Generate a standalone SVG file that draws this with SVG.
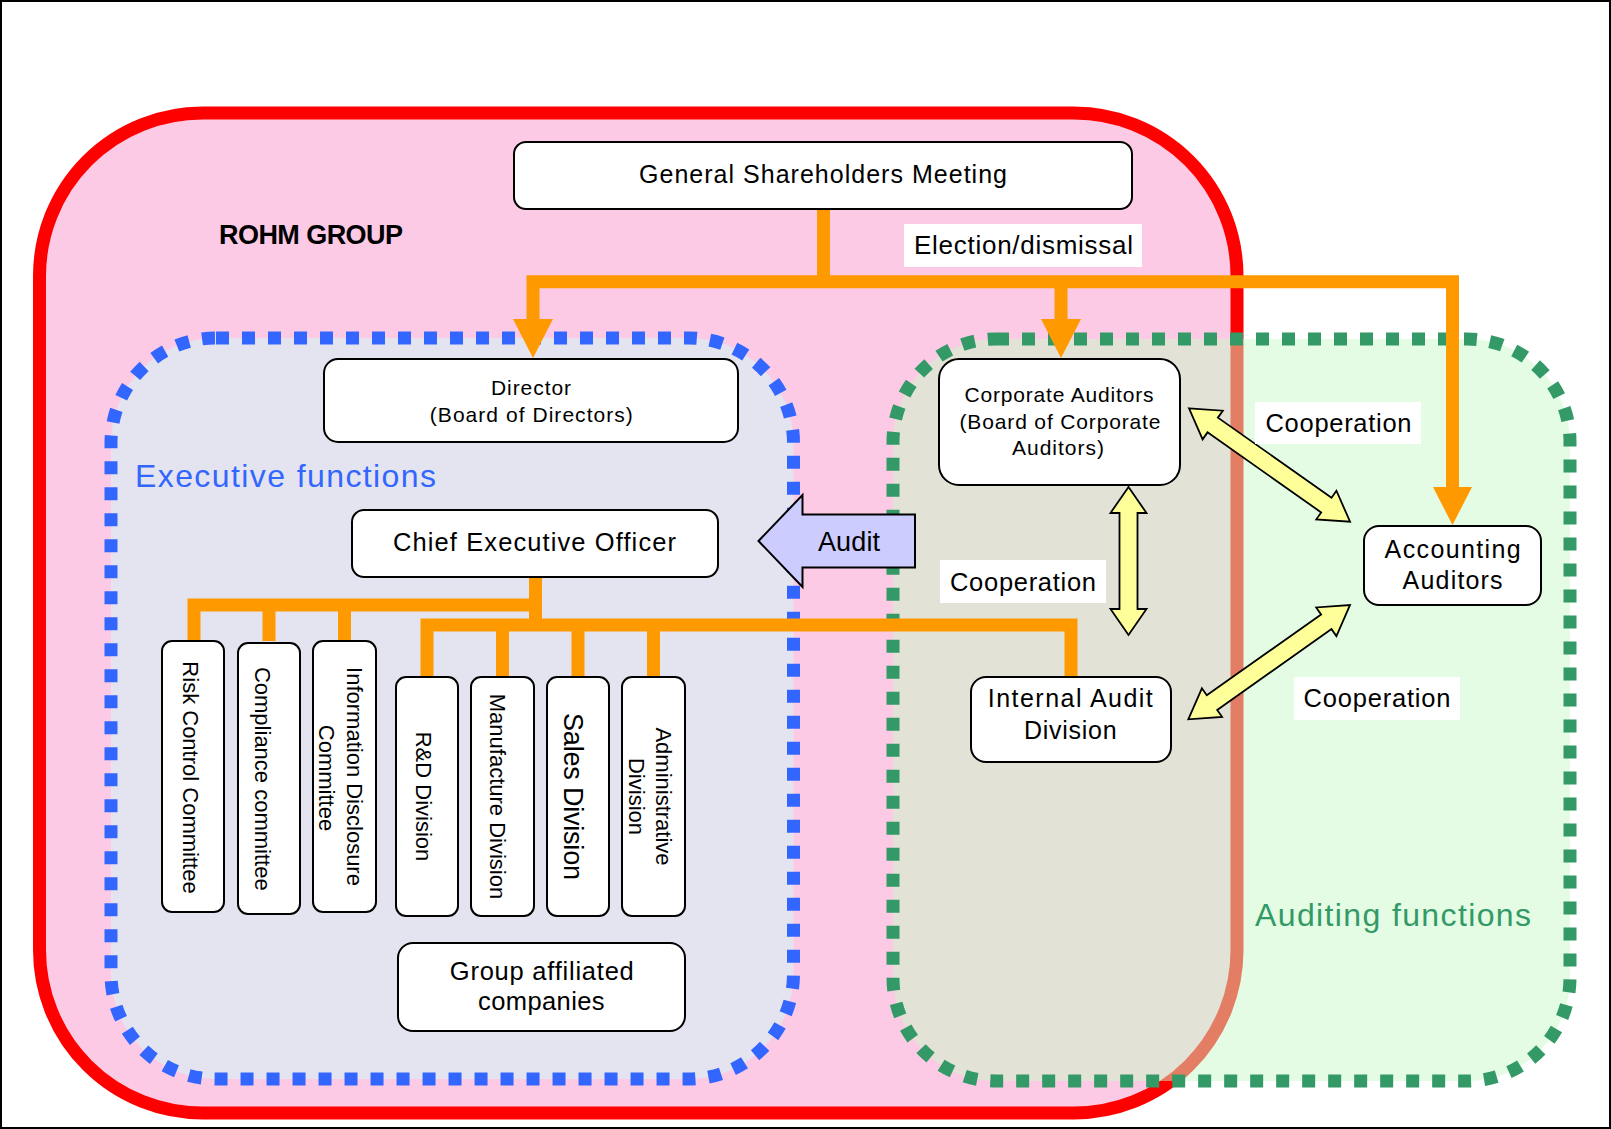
<svg xmlns="http://www.w3.org/2000/svg" width="1611" height="1129" viewBox="0 0 1611 1129">
<style>
.t{font-family:"Liberation Sans",Arial,sans-serif;fill:#000}
.box{fill:#fff;stroke:#000;stroke-width:2}
.lab{fill:#fff}
.or{fill:none;stroke:#FF9900;stroke-width:13;stroke-linejoin:miter;stroke-linecap:butt}
.orh{fill:#FF9900}
.yl{fill:#FFFF99;stroke:#000;stroke-width:1.8;stroke-linejoin:miter}
</style>
<rect x="1" y="1" width="1609" height="1127" fill="#fff" stroke="#000" stroke-width="2"/>
<g id="rohm-group">
<rect x="39.5" y="113" width="1197.5" height="1000" rx="163" ry="163" fill="#FDCAE5" stroke="#FF0000" stroke-width="13"/>
<text class="t" x="219" y="244" font-size="27" font-weight="bold" textLength="184">ROHM GROUP</text>
</g>
<g id="executive-functions">
<rect x="111" y="338" width="682.5" height="741" rx="105" ry="105" fill="#E4E4F0" stroke="#3366FF" stroke-width="13" stroke-dasharray="13 13"/>
<text x="135" y="487" font-family="Liberation Sans,Arial,sans-serif" font-size="32" fill="#3366FF" textLength="301">Executive functions</text>
</g>
<g id="auditing-functions">
<rect x="893" y="339" width="677" height="742" rx="103" ry="103" fill="#C8FAC8" fill-opacity="0.5" stroke="#339966" stroke-width="13" stroke-dasharray="13 13"/>
<text x="1255" y="925.6" font-family="Liberation Sans,Arial,sans-serif" font-size="32" fill="#339966" textLength="276">Auditing functions</text>
</g>
<g id="connectors">
<path class="or" d="M823.5,209 V288"/>
<path class="or" d="M533,320 V281.7 H1452.5 V488"/>
<path class="or" d="M1061,281.7 V320"/>
<polygon class="orh" points="513,319 553,319 533,358"/>
<polygon class="orh" points="1041,319 1081,319 1061,358"/>
<polygon class="orh" points="1433,487 1472,487 1452.5,525"/>
<path class="or" d="M535.5,577 V631"/>
<path class="or" d="M194,641 V605 H542"/>
<path class="or" d="M269,605 V641"/>
<path class="or" d="M344.5,605 V641"/>
<path class="or" d="M427,677 V625 H1071 V677"/>
<path class="or" d="M502.5,625 V677"/>
<path class="or" d="M578,625 V677"/>
<path class="or" d="M653.5,625 V677"/>
<polygon id="audit-arrow" points="758.5,541 802.5,495 802.5,514.5 915,514.5 915,567.5 802.5,567.5 802.5,587" fill="#CCCCFF" stroke="#000" stroke-width="2"/>
<text class="t" x="818" y="550.7" font-size="27" textLength="62">Audit</text>
<polygon class="yl" transform="translate(1128.5,487) rotate(90)" points="0,0 26,-18 26,-9 122,-9 122,-18 148,0 122,18 122,9 26,9 26,18"/>
<polygon class="yl" transform="translate(1189,408.3) rotate(35.16)" points="0,0 29,-17.5 29,-9 168,-9 168,-17.5 197,0 168,17.5 168,9 29,9 29,17.5"/>
<polygon class="yl" transform="translate(1188.3,719.3) rotate(-35.25)" points="0,0 29,-17.5 29,-9 169,-9 169,-17.5 198,0 169,17.5 169,9 29,9 29,17.5"/>
<rect class="lab" x="904" y="224" width="238" height="43"/>
<text class="t" x="1023.5" y="254" font-size="26" text-anchor="middle" textLength="219">Election/dismissal</text>
<rect class="lab" x="1255" y="402" width="166" height="42"/>
<text class="t" x="1338.5" y="432" font-size="25.5" text-anchor="middle" textLength="146">Cooperation</text>
<rect class="lab" x="940" y="560" width="166" height="43"/>
<text class="t" x="1023" y="590.7" font-size="25.5" text-anchor="middle" textLength="146">Cooperation</text>
<rect class="lab" x="1294" y="677" width="166" height="43"/>
<text class="t" x="1377" y="707" font-size="25.5" text-anchor="middle" textLength="147">Cooperation</text>
</g>
<g id="general-shareholders-meeting">
<rect class="box" x="514" y="142" width="618" height="67" rx="12"/>
<text class="t" x="823" y="183" font-size="25" text-anchor="middle" textLength="368">General Shareholders Meeting</text>
</g>
<g id="director">
<rect class="box" x="324" y="359" width="414" height="83" rx="14"/>
<text class="t" x="531" y="395" font-size="21" text-anchor="middle" textLength="80">Director</text>
<text class="t" x="531.3" y="421.7" font-size="21" text-anchor="middle" textLength="203">(Board of Directors)</text>
</g>
<g id="ceo">
<rect class="box" x="352" y="510" width="366" height="67" rx="12"/>
<text class="t" x="534.5" y="550.7" font-size="25.5" text-anchor="middle" textLength="283">Chief Executive Officer</text>
</g>
<g id="corporate-auditors">
<rect class="box" x="939" y="359" width="241" height="126" rx="20"/>
<text class="t" x="1059" y="402" font-size="21" text-anchor="middle" textLength="189">Corporate Auditors</text>
<text class="t" x="1060" y="429" font-size="21" text-anchor="middle" textLength="201">(Board of Corporate</text>
<text class="t" x="1058" y="455" font-size="21" text-anchor="middle" textLength="92">Auditors)</text>
</g>
<g id="accounting-auditors">
<rect class="box" x="1364" y="526" width="177" height="79" rx="15"/>
<text class="t" x="1452.6" y="558" font-size="25" text-anchor="middle" textLength="136">Accounting</text>
<text class="t" x="1452.6" y="589" font-size="25" text-anchor="middle" textLength="100">Auditors</text>
</g>
<g id="internal-audit-division">
<rect class="box" x="971" y="677" width="200" height="85" rx="15"/>
<text class="t" x="1070.3" y="707" font-size="25" text-anchor="middle" textLength="165">Internal Audit</text>
<text class="t" x="1070.3" y="739" font-size="25" text-anchor="middle" textLength="92.6">Division</text>
</g>
<g id="risk-control-committee">
<rect class="box" x="162" y="641" width="62" height="271" rx="10"/>
<text class="t" transform="translate(182.7,777.5) rotate(90)" font-size="22" text-anchor="middle">Risk Control Committee</text>
</g>
<g id="compliance-committee">
<rect class="box" x="238" y="643" width="62" height="271" rx="10"/>
<text class="t" transform="translate(255,778.8) rotate(90)" font-size="22" text-anchor="middle">Compliance committee</text>
</g>
<g id="information-disclosure-committee">
<rect class="box" x="313" y="641" width="63" height="271" rx="10"/>
<text class="t" transform="translate(347,776.5) rotate(90)" font-size="22" text-anchor="middle">Information Disclosure</text>
<text class="t" transform="translate(319,778) rotate(90)" font-size="22" text-anchor="middle">Committee</text>
</g>
<g id="rd-division">
<rect class="box" x="396" y="677" width="62" height="239" rx="10"/>
<text class="t" transform="translate(416,796.5) rotate(90)" font-size="22" text-anchor="middle">R&amp;D Division</text>
</g>
<g id="manufacture-division">
<rect class="box" x="471" y="677" width="63" height="239" rx="10"/>
<text class="t" transform="translate(490,796.5) rotate(90)" font-size="22" text-anchor="middle">Manufacture Division</text>
</g>
<g id="sales-division">
<rect class="box" x="547" y="677" width="62" height="239" rx="10"/>
<text class="t" transform="translate(564,796.5) rotate(90)" font-size="27" text-anchor="middle" textLength="167">Sales Division</text>
</g>
<g id="administrative-division">
<rect class="box" x="622" y="677" width="63" height="239" rx="10"/>
<text class="t" transform="translate(655.6,796.5) rotate(90)" font-size="22" text-anchor="middle">Administrative</text>
<text class="t" transform="translate(628.6,796.5) rotate(90)" font-size="22" text-anchor="middle">Division</text>
</g>
<g id="group-affiliated-companies">
<rect class="box" x="398" y="943" width="287" height="88" rx="15"/>
<text class="t" x="541.8" y="979.6" font-size="25.5" text-anchor="middle" textLength="184">Group affiliated</text>
<text class="t" x="541.3" y="1010" font-size="25.5" text-anchor="middle" textLength="126.6">companies</text>
</g>
</svg>
